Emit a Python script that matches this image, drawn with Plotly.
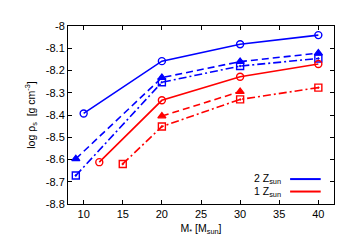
import plotly.graph_objects as go

# Data
blue_solid_x = [10, 20, 30, 40]
blue_solid_y = [-8.393, -8.158, -8.082, -8.041]
blue_dash_x = [9, 20, 30, 40]
blue_dash_y = [-8.597, -8.232, -8.160, -8.122]
blue_dashdot_x = [9, 20, 30, 40]
blue_dashdot_y = [-8.672, -8.253, -8.180, -8.146]
red_solid_x = [12, 20, 30, 40]
red_solid_y = [-8.612, -8.334, -8.228, -8.171]
red_dash_x = [20, 30]
red_dash_y = [-8.405, -8.295]
red_dashdot_x = [15, 20, 30, 40]
red_dashdot_y = [-8.620, -8.452, -8.330, -8.277]

x_ticks = [10, 15, 20, 25, 30, 35, 40]
y_ticks = [-8, -8.1, -8.2, -8.3, -8.4, -8.5, -8.6, -8.7, -8.8]
y_ticklabels = ["-8", "-8.1", "-8.2", "-8.3", "-8.4", "-8.5", "-8.6", "-8.7", "-8.8"]
legend_labels = ["2 Z<sub>sun</sub>", "1 Z<sub>sun</sub>"]

BLUE = "#0000ff"
RED = "#ff0000"
DASH = "7px,4px"
DASHDOT = "8px,3px,2px,3px"

fig = go.Figure()

def add(x, y, color, dash, symbol, size):
    fig.add_trace(go.Scatter(
        x=x, y=y, mode="lines+markers",
        line=dict(color=color, width=1.6, dash=dash),
        marker=dict(symbol=symbol, size=size, color=color,
                    line=dict(color=color, width=1.4)),
        showlegend=False, cliponaxis=False,
    ))

add(blue_solid_x, blue_solid_y, BLUE, "solid", "circle-open", 7)
add(blue_dash_x, blue_dash_y, BLUE, DASH, "triangle-up", 7)
add(blue_dashdot_x, blue_dashdot_y, BLUE, DASHDOT, "square-open-dot", 7)
add(red_solid_x, red_solid_y, RED, "solid", "circle-open", 7)
add(red_dash_x, red_dash_y, RED, DASH, "triangle-up", 7)
add(red_dashdot_x, red_dashdot_y, RED, DASHDOT, "square-open-dot", 7)

axis_common = dict(
    showline=True, linecolor="black", linewidth=1, mirror="ticks",
    ticks="inside", ticklen=4, tickcolor="black", showgrid=False,
    zeroline=False, tickfont=dict(size=11, color="black"),
)

fig.update_xaxes(range=[8, 42], tickvals=x_ticks, **axis_common,
                 title=dict(text="M<sub>*</sub> [M<sub>sun</sub>]", font=dict(size=10.5, color="black"), standoff=5))
fig.update_yaxes(range=[-8.8, -8.0], tickvals=y_ticks, ticktext=y_ticklabels, **axis_common,
                 title=dict(text="log ρ<sub>s</sub>  [g cm<sup>-3</sup>]", font=dict(size=10.5, color="black"), standoff=8))

# Legend (text then line sample), drawn in paper coordinates
legend_colors = [BLUE, RED]
legend_y = [0.14, 0.07]
for lab, col, ly in zip(legend_labels, legend_colors, legend_y):
    fig.add_annotation(x=0.81, y=ly, xref="paper", yref="paper", text=lab,
                       showarrow=False, xanchor="right", yanchor="middle",
                       font=dict(size=10.5, color="black"))
    fig.add_shape(type="line", xref="paper", yref="paper", x0=0.835, x1=0.95,
                  y0=ly, y1=ly, line=dict(color=col, width=2))

fig.update_layout(
    width=351, height=248,
    margin=dict(l=60, r=25, t=18, b=52),
    paper_bgcolor="white", plot_bgcolor="white",
    font=dict(family="Liberation Sans, Arial, sans-serif", size=10, color="black"),
)

fig.write_html("out.html")
